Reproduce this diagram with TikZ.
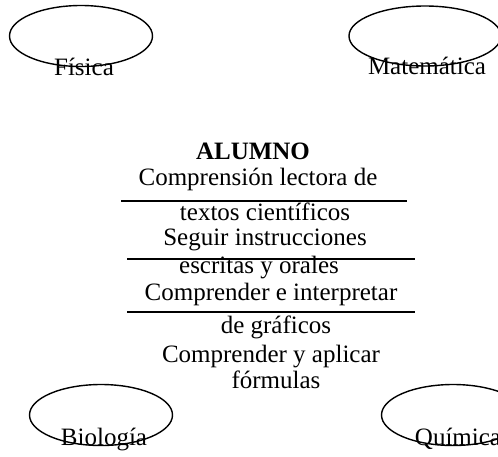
\documentclass[tikz,border=0pt]{standalone}
\usepackage{fontspec}
\setmainfont{Liberation Serif}
\usetikzlibrary{shapes.geometric}

\tikzset{
	area/.style={ellipse, draw, line width=1.4pt, inner sep=0pt, minimum width=143pt, minimum height=61pt},
	arealabel/.style={anchor=base, inner sep=0pt, font=\fontsize{25}{27}\selectfont},
	skill/.style={anchor=base, inner sep=0pt, font=\fontsize{25}{27}\selectfont},
	rule/.style={line width=2.5pt}
}

\begin{document}
\begin{tikzpicture}[x=1pt,y=-1pt]
	\useasboundingbox (0,0) rectangle (498,456);

	% Areas %
	\node [area] (fisica) at (81,36) {};
	\node [area, minimum width=152pt, minimum height=60pt] (matematica) at (425,36) {};
	\node [area] (biologia) at (101,415) {};
	\node [area] (quimica) at (453,415) {};
	\node [arealabel] (fisicalabel) at (84,75) {Física};
	\node [arealabel] (matematicalabel) at (427,74) {Matemática};
	\node [arealabel] (biologialabel) at (104,445) {Biología};
	\node [arealabel] (quimicalabel) at (458,445) {Química};

	% Alumno %
	\node [skill, font=\fontsize{25}{27}\selectfont\bfseries] (alumno) at (253,159) {ALUMNO};
	\node [skill] (lectora1) at (258,185) {Comprensión lectora de};
	\node [skill] (lectora2) at (265,220) {textos científicos};
	\node [skill] (instruc1) at (265,245) {Seguir instrucciones};
	\node [skill] (instruc2) at (259,273) {escritas y orales};
	\node [skill] (graficos1) at (271,300) {Comprender e interpretar};
	\node [skill] (graficos2) at (276,333) {de gráficos};
	\node [skill] (formulas1) at (271,362) {Comprender y aplicar};
	\node [skill] (formulas2) at (276,388) {fórmulas};

	% Rules %
	\draw [rule] (121,201) -- (407,201);
	\draw [rule] (127,259) -- (415,259);
	\draw [rule] (127,312) -- (415,312);
\end{tikzpicture}
\end{document}
